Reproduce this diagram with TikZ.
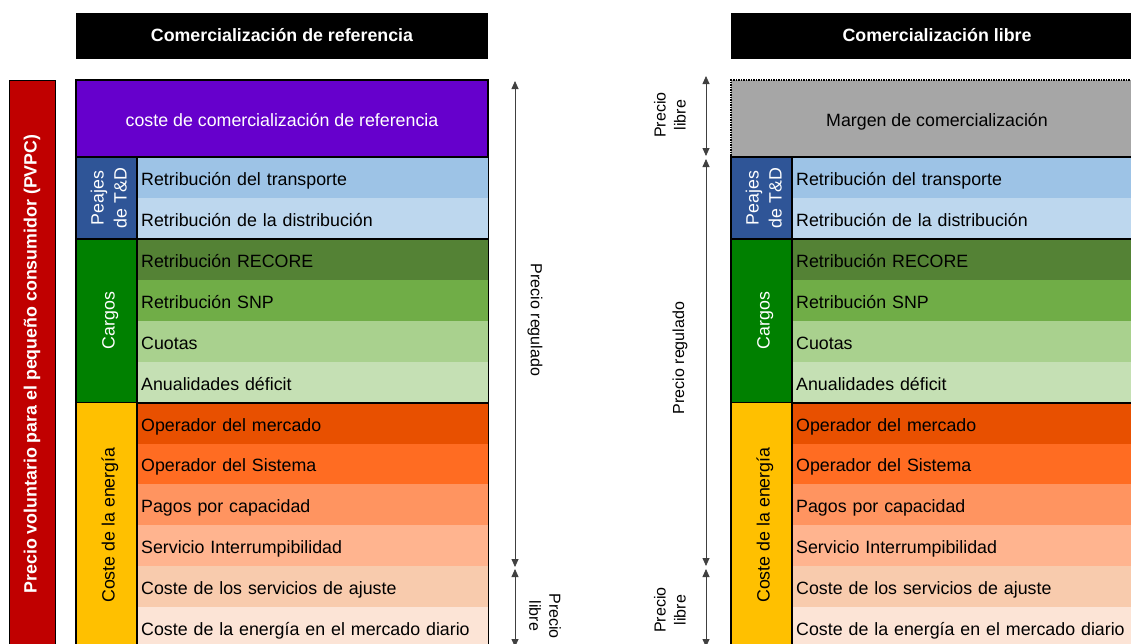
\documentclass[tikz,border=0pt]{standalone}
\usepackage{fontspec}
\setmainfont{Liberation Sans}
\usetikzlibrary{arrows.meta}

\definecolor{rojo}{HTML}{C00000}
\definecolor{morado}{HTML}{6600CC}
\definecolor{gris}{HTML}{A6A6A6}
\definecolor{azulT}{HTML}{2F5597}
\definecolor{verdeC}{HTML}{008000}
\definecolor{oroE}{HTML}{FFC000}
\definecolor{transp}{HTML}{9DC3E6}
\definecolor{distr}{HTML}{BDD7EE}
\definecolor{recore}{HTML}{548235}
\definecolor{snp}{HTML}{70AD47}
\definecolor{cuotas}{HTML}{A9D18E}
\definecolor{anual}{HTML}{C5E0B4}
\definecolor{omie}{HTML}{E85000}
\definecolor{ree}{HTML}{FF6C22}
\definecolor{pagos}{HTML}{FF9460}
\definecolor{interr}{HTML}{FFB48F}
\definecolor{ajuste}{HTML}{F8CBAD}
\definecolor{diario}{HTML}{FCE4D6}

\tikzset{
  letra/.style={font=\fontsize{17.8}{20}\selectfont},
  bajo/.style={text height=19pt, text depth=3pt},
  cabecera/.style={fill=black, text=white, font=\fontsize{17.8}{20}\selectfont\bfseries,
    minimum width=412pt, minimum height=46pt, inner sep=0pt},
  cajatop/.style={letra, bajo, draw=black, line width=1.5pt, minimum width=412pt, minimum height=77pt, inner sep=0pt},
  fila/.style={letra, bajo, anchor=north west, minimum width=351pt, minimum height=40.9pt,
    text width=343pt, inner xsep=4pt, inner ysep=0pt, align=left},
  categoria/.style={letra, bajo, rotate=90, draw=black, line width=1.5pt, minimum height=61pt,
    inner sep=0pt, align=center},
  grupo/.style={draw=black, line width=1.5pt},
  pvpc/.style={rotate=90, fill=rojo, draw=black, line width=1pt, text=white,
    font=\fontsize{17.8}{20}\selectfont\bfseries, minimum width=568pt, minimum height=46pt, inner sep=0pt},
  flecha/.style={{Triangle[width=7pt,length=8pt]}-{Triangle[width=7pt,length=8pt]}, draw=black!75, line width=0.8pt},
  etiqueta/.style={font=\fontsize{16}{20}\selectfont, align=center, inner sep=0pt}
}

\newcommand{\dosrenglones}[2]{\raisebox{-9pt}[0pt][0pt]{\begin{tabular}{@{}c@{}}#1\\[3pt]#2\end{tabular}}}

\begin{document}
\begin{tikzpicture}[x=1pt,y=-1pt]
\useasboundingbox (0,0) rectangle (1131,643);
\fill[white] (0,0) rectangle (1131,643);
\clip (0,0) rectangle (1131,643);

% cabeceras
\node[cabecera] (L-cab) at (282,35.5) {Comercialización de referencia};
\node[cabecera] (R-cab) at (937,35.5) {Comercialización libre};

\node[pvpc] (pvpc) at (32,364) {Precio voluntario para el pequeño consumidor (PVPC)};

\node[cajatop, fill=morado, text=white] (L-top) at (282,118.5) {coste de comercialización de referencia};
\node[cajatop, fill=gris, densely dotted] (R-top) at (937,118.5) {Margen de comercialización};

% las dos columnas de conceptos
\foreach \s/\x in {L/76,R/731}{
  \foreach \i/\c/\t in {1/transp/Retribución del transporte, 2/distr/Retribución de la distribución,
      3/recore/Retribución RECORE, 4/snp/Retribución SNP, 5/cuotas/Cuotas, 6/anual/Anualidades déficit,
      7/omie/Operador del mercado, 8/ree/Operador del Sistema, 9/pagos/Pagos por capacidad,
      10/interr/Servicio Interrumpibilidad, 11/ajuste/Coste de los servicios de ajuste,
      12/diario/Coste de la energía en el mercado diario}
    \node[fila, fill=\c] (\s-\i) at (\x+61,{157+40.9*(\i-1)}) {\t};
  \node[categoria, fill=azulT, text=white, minimum width=81.8pt, text height=0pt, text depth=0pt]
    (\s-peajes) at (\x+30.5,197.9) {\dosrenglones{Peajes}{de T\&D}};
  \node[categoria, fill=verdeC, text=white, minimum width=163.6pt] (\s-cargos) at (\x+30.5,320.6) {Cargos};
  \node[categoria, fill=oroE, minimum width=245.4pt] (\s-energia) at (\x+30.5,525.1) {Coste de la energía};
  \draw[grupo] (\s-1.north west) rectangle (\s-2.south east);
  \draw[grupo] (\s-3.north west) rectangle (\s-6.south east);
  \draw[grupo] (\s-7.north west) rectangle (\s-12.south east);
}

% cotas de precio
\coordinate (L1) at (515,81);
\coordinate (L2) at (515,567);
\coordinate (L3) at (515,569);
\coordinate (L4) at (515,647);
\coordinate (M1) at (706,76);
\coordinate (M2) at (706,156);
\coordinate (M3) at (706,159);
\coordinate (M4) at (706,566);
\coordinate (M5) at (706,569);
\coordinate (M6) at (706,647);

\draw[flecha] (L1) -- (L2);
\draw[flecha] (L3) -- (L4);
\draw[flecha] (M1) -- (M2);
\draw[flecha] (M3) -- (M4);
\draw[flecha] (M5) -- (M6);

\node[etiqueta, rotate=-90] (L-reg) at (535,320) {Precio regulado};
\node[etiqueta, rotate=-90] (L-libre) at (545,616) {Precio\\libre};
\node[etiqueta, rotate=90] (M-libre1) at (670,115) {Precio\\libre};
\node[etiqueta, rotate=90] (M-reg) at (680,358) {Precio regulado};
\node[etiqueta, rotate=90] (M-libre2) at (670,610) {Precio\\libre};

\end{tikzpicture}
\end{document}
